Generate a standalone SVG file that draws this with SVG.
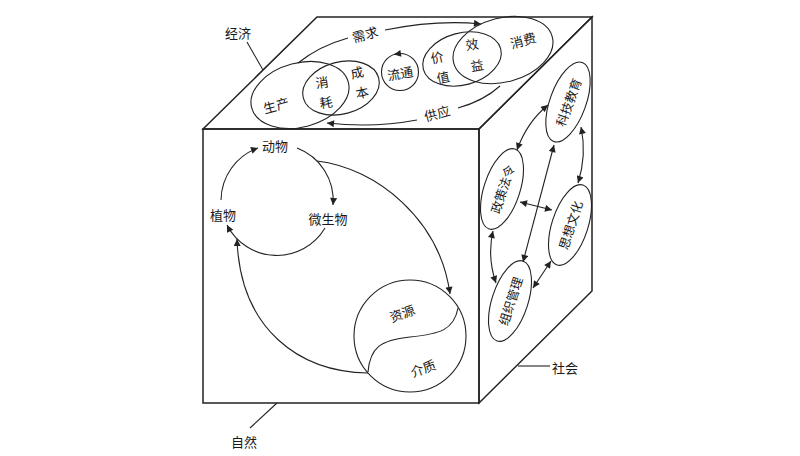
<svg xmlns="http://www.w3.org/2000/svg" width="800" height="456" viewBox="0 0 800 456">
<style>
.edge{fill:none;stroke:#222;stroke-width:1.5;stroke-linejoin:miter}
.ln{fill:none;stroke:#222;stroke-width:1.1}
.sh{fill:none;stroke:#222;stroke-width:1.1}
.t{font-family:"Noto Sans CJK SC","Noto Sans CJK JP",sans-serif;font-size:13px;fill:#1a1a1a;text-anchor:middle;dominant-baseline:central}
.ts{font-size:12.5px}
.a{marker-end:url(#ah)}
.aa{marker-start:url(#ah);marker-end:url(#ah)}
</style>
<defs>
<marker id="ah" viewBox="0 0 10 10" refX="10" refY="5" markerWidth="9" markerHeight="7" markerUnits="userSpaceOnUse" orient="auto-start-reverse">
<path d="M0,0 L10,5 L0,10 z" fill="#222"/>
</marker>
</defs>
<rect width="800" height="456" fill="#fff"/>

<g id="cube">
<polygon class="edge" points="203,129 317,17 592,17 479,129"/>
<polygon class="edge" points="479,129 592,17 592,291 479,403"/>
<rect class="edge" x="203" y="129" width="276" height="274"/>
</g>

<g id="labels">
<line class="ln" x1="247" y1="42" x2="263" y2="70"/>
<text class="t" x="238" y="32">经济</text>
<line class="ln" x1="518" y1="366" x2="550" y2="366"/>
<text class="t" x="565" y="367">社会</text>
<line class="ln" x1="277" y1="403" x2="250" y2="428"/>
<text class="t" x="244" y="441">自然</text>
</g>

<g id="economy">
<g id="node-shengchan">
<ellipse class="sh" cx="300" cy="95" rx="50" ry="32" transform="rotate(-15 300 95)"/>
<text class="t" x="276" y="105" transform="rotate(-15 276 105)">生产</text>
</g>
<g id="node-chengben">
<ellipse class="sh" cx="341" cy="88" rx="39" ry="26" transform="rotate(-15 341 88)"/>
<text class="t" x="357" y="72" transform="rotate(-12 357 72)">成</text>
<text class="t" x="362" y="92" transform="rotate(-12 362 92)">本</text>
</g>
<g id="node-xiaohao">
<text class="t" x="322" y="82" transform="rotate(-8 322 82)">消</text>
<text class="t" x="326" y="102" transform="rotate(-8 326 102)">耗</text>
</g>
<g id="node-liutong">
<circle class="sh" cx="400" cy="72" r="18.5"/>
<text class="t" x="400" y="73" transform="rotate(-10 400 73)">流通</text>
</g>
<g id="node-jiazhi">
<ellipse class="sh" cx="462" cy="59" rx="40" ry="26" transform="rotate(-15 462 59)"/>
<text class="t" x="437" y="57" transform="rotate(-12 437 57)">价</text>
<text class="t" x="443" y="77" transform="rotate(-12 443 77)">值</text>
</g>
<g id="node-xiaofei">
<ellipse class="sh" cx="503" cy="50" rx="51" ry="32" transform="rotate(-15 503 50)"/>
<text class="t" x="523" y="40" transform="rotate(-15 523 40)">消费</text>
</g>
<g id="node-xiaoyi">
<text class="t" x="472" y="44" transform="rotate(-10 472 44)">效</text>
<text class="t" x="477" y="65" transform="rotate(-10 477 65)">益</text>
</g>
<g id="economy-connectors">
<path class="ln" d="M298,63 C313,51 330,43 348,38"/>
<path class="ln a" d="M385,30 C420,23 452,21 481,24"/>
<text class="t" x="365" y="34" transform="rotate(-15 365 34)">需求</text>
<path class="ln" d="M500,86 C490,95 476,103 458,108"/>
<path class="ln a" d="M417,120 C385,126 355,126 327,123"/>
<text class="t" x="437" y="113" transform="rotate(-15 437 113)">供应</text>
<path class="ln a" d="M400,53.5 L394,54.5"/>
</g>
</g>

<g id="society">
<g id="node-keji">
<ellipse class="sh" cx="568" cy="102" rx="18" ry="42" transform="rotate(20 568 102)"/>
<text class="t ts" x="568" y="102" transform="rotate(-70 568 102)">科技教育</text>
</g>
<g id="node-zhengce">
<ellipse class="sh" cx="502" cy="189" rx="18" ry="42" transform="rotate(18 502 189)"/>
<text class="t ts" x="502" y="189" transform="rotate(-72 502 189)">政策法令</text>
</g>
<g id="node-sixiang">
<ellipse class="sh" cx="570" cy="225" rx="18" ry="42" transform="rotate(18 570 225)"/>
<text class="t ts" x="570" y="225" transform="rotate(-72 570 225)">思想文化</text>
</g>
<g id="node-zuzhi">
<ellipse class="sh" cx="510" cy="301" rx="18" ry="42" transform="rotate(18 510 301)"/>
<text class="t ts" x="510" y="301" transform="rotate(-72 510 301)">组织管理</text>
</g>
<g id="society-connectors">
<path class="ln aa" d="M517,150 Q527,122 548,105"/>
<path class="ln aa" d="M581,127 Q587,155 578,183"/>
<path class="ln aa" d="M520,202 L552,210"/>
<path class="ln aa" d="M554,145 L523,262"/>
<path class="ln aa" d="M493,231 Q487,257 496,283"/>
<path class="ln aa" d="M551,261 Q541,276 533,288"/>
</g>
</g>

<g id="nature">
<g id="node-dongwu"><text class="t" x="275" y="145">动物</text></g>
<g id="node-zhiwu"><text class="t" x="223" y="214">植物</text></g>
<g id="node-weishengwu"><text class="t" x="328" y="218">微生物</text></g>
<g id="node-ziyuan">
<circle class="sh" cx="410" cy="336" r="56"/>
<path class="sh" d="M458,308 C454,330 440,334 410,337 C380,340 370,348 368,372"/>
<text class="t" x="402" y="313" transform="rotate(-20 402 313)">资源</text>
<text class="t" x="423" y="368" transform="rotate(-20 423 368)">介质</text>
</g>
<g id="nature-connectors">
<path class="ln a" d="M221,200 A56,56 0 0 1 258,148"/>
<path class="ln a" d="M297,148 A56,56 0 0 1 333,205"/>
<path class="ln a" d="M325,228 A56,56 0 0 1 227,225"/>
<path class="ln a" d="M317,161 C377,168 440,220 450,294"/>
<path class="ln a" d="M368,373 C300,372 240,330 237,239"/>
</g>
</g>
</svg>
